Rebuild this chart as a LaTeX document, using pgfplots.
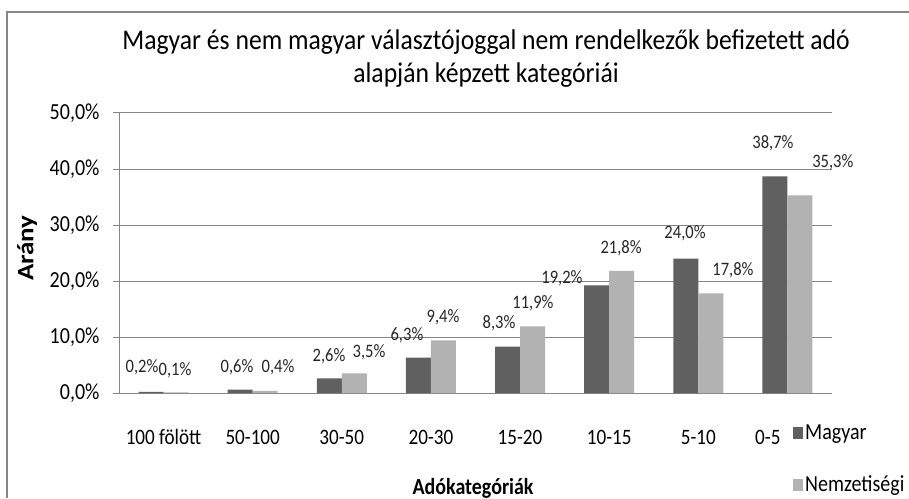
\documentclass[border=0pt]{standalone}
\usepackage{fontspec}
\setmainfont{Carlito}[FakeStretch=0.87]
\newfontfamily\titlefont{Carlito}[FakeStretch=0.90]
\newfontfamily\plainfont{Carlito}
\usepackage{pgfplots}
\pgfplotsset{compat=1.18}
\usepackage{pgfplotstable}
\definecolor{darkbar}{RGB}{96,96,96}
\definecolor{lightbar}{RGB}{178,178,178}
\definecolor{gridc}{RGB}{134,134,134}
\definecolor{framec}{RGB}{134,134,134}

\pgfplotstableread{
x y
0 0.2
1 0.6
2 2.6
3 6.3
4 8.3
5 19.2
6 24.0
7 38.7
}\magyar
\pgfplotstableread{
x y
0 0.1
1 0.4
2 3.5
3 9.4
4 11.9
5 21.8
6 17.8
7 35.3
}\nemz
\pgfplotstableread{
x y label
-0.242 4.64 {0,2\%}
0.824 4.64 {0,6\%}
1.856 6.61 {2,6\%}
2.731 10.36 {6,3\%}
3.764 12.5 {8,3\%}
4.470 20.54 {19,2\%}
5.851 28.57 {24,0\%}
6.838 44.64 {38,7\%}
}\magyarlab
\pgfplotstableread{
x y label
0.128 4.1 {0,1\%}
1.284 4.64 {0,4\%}
2.305 7.32 {3,5\%}
3.135 13.57 {9,4\%}
4.145 16.07 {11,9\%}
5.133 25.89 {21,8\%}
6.389 21.96 {17,8\%}
7.51 41.25 {35,3\%}
}\nemzlab

\begin{document}
\begin{tikzpicture}[x=1pt,y=1pt]
\useasboundingbox (0,0) rectangle (909,498);
\draw[framec, line width=2pt] (7,0) -- (7,486) -- (909,486);
\node[anchor=base, font=\titlefont\fontsize{28.5}{30}\selectfont] at (486,448) {Magyar és nem magyar választójoggal nem rendelkezők befizetett adó};
\node[anchor=base, font=\titlefont\fontsize{28.5}{30}\selectfont] at (486,415) {alapján képzett kategóriái};
\node at (27,250) {\rotatebox{90}{\scalebox{1}[0.87]{\plainfont\bfseries\fontsize{27}{29}\selectfont Arány}}};
\node[anchor=base, font=\bfseries\fontsize{23}{25}\selectfont] at (473,4) {Adókategóriák};
\begin{axis}[
  at={(119pt,105pt)}, anchor=south west,
  scale only axis, width=713pt, height=280pt,
  xmin=-0.5, xmax=7.5, ymin=0, ymax=50,
  axis x line*=bottom, axis y line*=left,
  axis line style={gridc, line width=1pt, -},
  xtick={0,1,2,3,4,5,6,6.78},
  xticklabels={100 fölött,50-100,30-50,20-30,15-20,10-15,5-10,0-5},
  xtick style={draw=none},
  ytick={0,10,20,30,40,50},
  yticklabels={{0,0\%},{10,0\%},{20,0\%},{30,0\%},{40,0\%},{50,0\%}},
  tick align=outside, major tick length=6pt,
  ytick style={gridc, line width=1pt},
  ymajorgrids, grid style={gridc, line width=1pt},
  tick label style={font=\fontsize{22}{24}\selectfont},
  yticklabel style={font=\fontsize{23}{25}\selectfont, anchor=east, xshift=-10pt},
  xticklabel style={anchor=base, yshift=-45pt},
  legend style={at={(0.9453,-0.105)}, anchor=north west, draw=none, fill=none,
    inner sep=0pt, font=\fontsize{23}{25}\selectfont, row sep=31pt,
    /tikz/every even column/.append style={column sep=5pt}},
  legend cell align=left,
  clip=false,
]
\addplot[ybar, bar width=25pt, bar shift=-12.5pt, fill=darkbar, draw=none,
  legend image code/.code={\fill[darkbar] (0pt,-6pt) rectangle (10pt,6pt);}]
  table[x=x,y=y]{\magyar};
\addlegendentry{Magyar}
\addplot[ybar, bar width=25pt, bar shift=12.5pt, fill=lightbar, draw=none,
  legend image code/.code={\fill[lightbar] (0pt,-6pt) rectangle (10pt,6pt);}]
  table[x=x,y=y]{\nemz};
\addlegendentry{Nemzetiségi}
\addplot[only marks, mark=none, forget plot, point meta=explicit symbolic,
  nodes near coords, nodes near coords style={anchor=center, font=\fontsize{19}{21}\selectfont, text=black!85}]
  table[x=x,y=y,meta=label]{\magyarlab};
\addplot[only marks, mark=none, forget plot, point meta=explicit symbolic,
  nodes near coords, nodes near coords style={anchor=center, font=\fontsize{19}{21}\selectfont, text=black!85}]
  table[x=x,y=y,meta=label]{\nemzlab};
\end{axis}
\end{tikzpicture}
\end{document}
